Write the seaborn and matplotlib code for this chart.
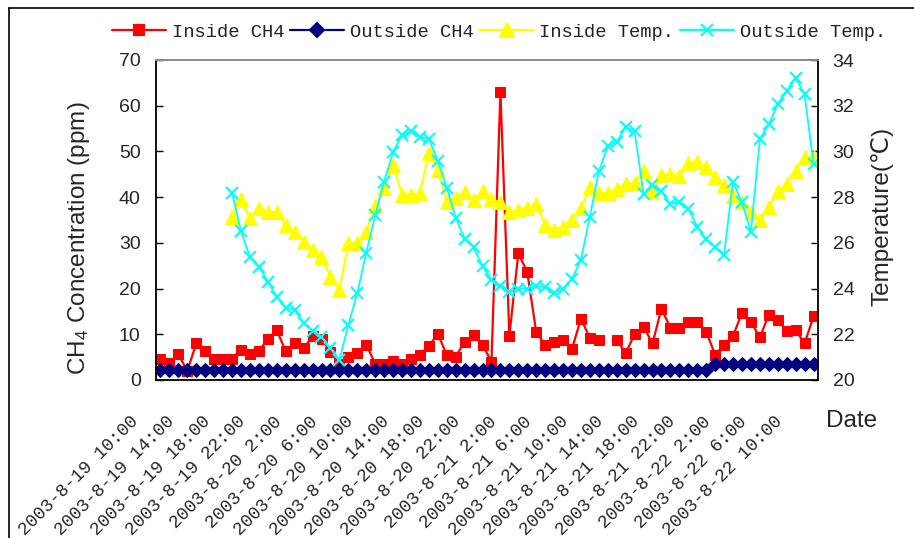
import numpy as np
import pandas as pd
import matplotlib
matplotlib.use("Agg")
import matplotlib.pyplot as plt
import seaborn as sns
from matplotlib.lines import Line2D
from matplotlib.transforms import ScaledTranslation
from matplotlib.ticker import FixedLocator

nan = np.nan

# ---------------- data (hourly, 2003-8-19 10:00 ... 2003-8-22 11:00) ----------------
tick_labels = [
    "2003-8-19 10:00", "2003-8-19 14:00", "2003-8-19 18:00", "2003-8-19 22:00",
    "2003-8-20 2:00", "2003-8-20 6:00", "2003-8-20 10:00", "2003-8-20 14:00",
    "2003-8-20 18:00", "2003-8-20 22:00", "2003-8-21 2:00", "2003-8-21 6:00",
    "2003-8-21 10:00", "2003-8-21 14:00", "2003-8-21 18:00", "2003-8-21 22:00",
    "2003-8-22 2:00", "2003-8-22 6:00", "2003-8-22 10:00",
]

inside_ch4 = [
    4.6, 3.8, 5.6, 2.0, 8.0, 6.3, 4.7, 4.7, 4.7, 6.6,
    5.6, 6.3, 9.0, 10.9, 6.3, 8.0, 6.9, 9.6, 9.0, 6.2,
    3.5, 5.1, 5.8, 7.7, 3.6, 3.6, 4.2, 3.6, 4.7, 5.5,
    7.4, 10.1, 5.5, 5.1, 8.4, 9.8, 7.7, 4.0, 63.1, 9.7,
    27.7, 23.6, 10.5, 7.7, 8.4, 8.8, 6.8, 13.4, 9.2, 8.75,
    nan, 8.75, 5.9, 10.0, 11.7, 8.0, 15.6, 11.4, 11.4, 12.7,
    12.7, 10.6, 5.5, 7.7, 9.6, 14.7, 12.7, 9.3, 14.3, 13.1,
    10.7, 10.9, 8.0, 13.9,
]

outside_ch4 = [
    2.1, 2.1, 2.1, 2.1, 2.1, 2.1, 2.1, 2.1, 2.1, 2.1,
    2.1, 2.1, 2.1, 2.1, 2.1, 2.1, 2.1, 2.1, 2.1, 2.1,
    2.1, 2.1, 2.1, 2.1, 2.1, 2.1, 2.1, 2.1, 2.1, 2.1,
    2.1, 2.1, 2.1, 2.1, 2.1, 2.1, 2.1, 2.1, 2.1, 2.1,
    2.1, 2.1, 2.1, 2.1, 2.1, 2.1, 2.1, 2.1, 2.1, 2.1,
    2.1, 2.1, 2.1, 2.1, 2.1, 2.1, 2.1, 2.1, 2.1, 2.1,
    2.1, 2.1, 3.6, 3.6, 3.6, 3.6, 3.6, 3.6, 3.6, 3.6,
    3.6, 3.6, 3.6, 3.6,
]

inside_temp = [
    nan, nan, nan, nan, nan, nan, nan, nan, 27.15, 27.9,
    27.07, 27.54, 27.36, 27.34, 26.78, 26.49, 26.05, 25.69, 25.4, 24.52,
    23.94, 25.98, 25.98, 26.49, 27.6, 28.39, 29.4, 28.09, 28.09, 28.17,
    29.92, 29.19, 27.8, 27.95, 28.24, 27.88, 28.27, 27.9, 27.77, 27.36,
    27.44, 27.51, 27.69, 26.78, 26.56, 26.71, 27.0, 27.51, 28.43, 28.17,
    28.18, 28.36, 28.59, 28.6, 29.15, 28.27, 28.98, 29.0, 28.93, 29.5,
    29.53, 29.33, 28.86, 28.55, 28.06, 27.8, 27.34, 27.02, 27.58, 28.25,
    28.57, 29.15, 29.77, 29.77,
]

outside_temp = [
    nan, nan, nan, nan, nan, nan, nan, nan, 28.2, 26.5,
    25.4, 24.96, 24.3, 23.65, 23.14, 23.06, 22.48, 22.15, 21.9, 21.39,
    20.88, 22.41, 23.79, 25.57, 27.2, 28.68, 29.97, 30.72, 30.9, 30.65,
    30.55, 29.6, 28.42, 27.1, 26.18, 25.8, 24.98, 24.38, 24.13, 23.85,
    24.0, 23.99, 24.12, 24.09, 23.82, 24.0, 24.41, 25.27, 27.15, 29.13,
    30.22, 30.4, 31.07, 30.88, 28.12, 28.52, 28.25, 27.7, 27.8, 27.5,
    26.71, 26.15, 25.81, 25.47, 28.68, 27.77, 26.49, 30.54, 31.19, 32.08,
    32.66, 33.23, 32.5, 29.43,
]

series_names = ["Inside CH4", "Outside CH4", "Inside Temp.", "Outside Temp."]
series_colors = ["#FF0000", "#000080", "#FFFF00", "#00FFFF"]

# ---------------- build frame ----------------
n = len(inside_ch4)
df = pd.DataFrame({
    "idx": np.arange(n),
    "inside_ch4": inside_ch4,
    "outside_ch4": outside_ch4,
    "inside_temp": inside_temp,
    "outside_temp": outside_temp,
})
# segment ids so that gaps (missing values) stay gaps
df["seg"] = df["inside_ch4"].isna().cumsum()

sns.set_style("white")
plt.rcParams["font.family"] = ["Liberation Sans", "DejaVu Sans"]
plt.rcParams["mathtext.fontset"] = "custom"
plt.rcParams["mathtext.rm"] = "Liberation Sans"
plt.rcParams["mathtext.it"] = "Liberation Sans:italic"

W, H = 914, 538
fig = plt.figure(figsize=(W / 100, H / 100), dpi=100)
ax = fig.add_axes([156 / W, 1 - 380 / H, 662 / W, 320 / H])
ax2 = ax.twinx()

lw = 1.6
msizes = [7.6, 7, 9.5, 8.5]
d_red = df.dropna(subset=["inside_ch4"])
sns.lineplot(data=d_red, x="idx", y="inside_ch4", units="seg", estimator=None,
             ax=ax, color=series_colors[0], lw=lw, marker="s", markersize=msizes[0],
             markeredgecolor=series_colors[0], legend=False, sort=False)
sns.lineplot(data=df, x="idx", y="outside_ch4", ax=ax, color=series_colors[1],
             lw=lw, marker="D", markersize=msizes[1], markeredgecolor=series_colors[1],
             legend=False, sort=False)
d_t = df.dropna(subset=["inside_temp"])
sns.lineplot(data=d_t, x="idx", y="inside_temp", ax=ax2, color=series_colors[2],
             lw=lw, marker="^", markersize=msizes[2], markeredgecolor=series_colors[2],
             legend=False, sort=False)
d_o = df.dropna(subset=["outside_temp"])
sns.lineplot(data=d_o, x="idx", y="outside_temp", ax=ax2, color=series_colors[3],
             lw=1.3, marker="x", markersize=msizes[3], markeredgewidth=1.5,
             markeredgecolor=series_colors[3], legend=False, sort=False)

# ---------------- axes ----------------
ax.set_xlim(-0.5, n - 0.5)
ax.set_ylim(0, 70)
ax2.set_ylim(20, 34)
ax.set_yticks(np.arange(0, 71, 10))
ax2.set_yticks(np.arange(20, 35, 2))

major_pos = np.arange(0, n, 4)
ax.xaxis.set_major_locator(FixedLocator(major_pos))
ax.xaxis.set_minor_locator(FixedLocator(np.arange(-0.5, n, 1.0)))
ax.set_xticklabels(tick_labels)

ax.tick_params(axis="x", which="major", length=0, pad=0)
ax.tick_params(axis="x", which="minor", direction="in", length=5, width=1, color="black")
ax.tick_params(axis="y", direction="in", length=5, width=1, color="black",
               labelsize=14, pad=11)
ax2.tick_params(axis="y", direction="in", length=5, width=1, color="black",
                labelsize=14, pad=10.5)

offset = ScaledTranslation(-24.5 / 100, -39 / 100, fig.dpi_scale_trans)
for lab in ax.get_xticklabels():
    lab.set_rotation(45)
    lab.set_ha("right")
    lab.set_va("center")
    lab.set_rotation_mode("anchor")
    lab.set_fontfamily("Liberation Mono")
    lab.set_fontsize(13)
    lab.set_transform(lab.get_transform() + offset)

for a in (ax, ax2):
    a.set_xlabel("")
    a.grid(False)
    for s in a.spines.values():
        s.set_linewidth(1.3)
        s.set_color("black")
    a.spines["top"].set_color("#8c8c8c")
ax.spines["right"].set_visible(False)
ax2.spines["left"].set_visible(False)
ax2.spines["bottom"].set_visible(False)

ax.set_ylabel(r"CH$_4$ Concentration (ppm)", fontsize=17.5)
ax.yaxis.set_label_coords(-0.097, 0.444)
ax2.set_ylabel("Temperature(℃)", fontsize=17.5)
ax2.yaxis.set_label_coords(1.080, 0.5125)

fig.text(852 / W, 1 - 421 / H, "Date", fontsize=17.5, ha="center", va="center")

# ---------------- legend ----------------
markers = ["s", "D", "^", "x"]
handles = [Line2D([], [], color=c, lw=lw, marker=m, markersize=s, markeredgecolor=c,
                  markeredgewidth=1.5)
           for c, m, s in zip(series_colors, markers, msizes)]
leg = fig.legend(handles, series_names, loc="center", bbox_to_anchor=(499 / W, 1 - 32 / H),
                 ncol=4, frameon=False, prop={"family": "Liberation Mono", "size": 13.5},
                 handlelength=2.9, handletextpad=0.3, columnspacing=0.3, borderaxespad=0)
for t in leg.get_texts():
    t.set_color("#222222")

# chart-area frame (top and left edges)
fig.add_artist(Line2D([9 / W, 1], [1 - 8 / H, 1 - 8 / H], transform=fig.transFigure,
                      color="black", lw=1.2))
fig.add_artist(Line2D([9 / W, 9 / W], [0, 1 - 8 / H], transform=fig.transFigure,
                      color="black", lw=1.2))

fig.savefig("out.png", dpi=100)
